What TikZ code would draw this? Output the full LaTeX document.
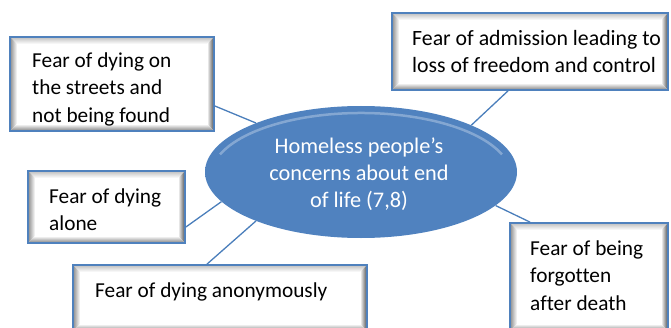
\documentclass[tikz,border=0pt]{standalone}
\usepackage{fontspec}
\setmainfont[Ligatures=NoCommon]{Carlito}
\usetikzlibrary{calc,shapes.geometric}
\definecolor{bord}{HTML}{4F81BD}
\definecolor{ellA}{HTML}{5082BF}
\definecolor{ellB}{HTML}{4A7CB8}
\definecolor{ellC}{HTML}{2F5D97}
\definecolor{conncol}{HTML}{4A7EBB}
\pgfdeclareradialshading{ellshade}{\pgfpoint{0bp}{0bp}}{%
  color(0bp)=(ellA); color(32bp)=(ellA); color(42bp)=(ellB); color(47bp)=(ellC); color(50bp)=(ellC)}
\newlength{\bevw}
\setlength{\bevw}{7pt}
\tikzset{
  bevbox/.style={draw=bord, line width=1.8pt, fill=white, inner sep=0pt,
    path picture={
      \path (path picture bounding box.south west) coordinate (pSW)
            (path picture bounding box.north east) coordinate (pNE)
            (path picture bounding box.north west) coordinate (pNW)
            (path picture bounding box.south east) coordinate (pSE);
      \shade[top color=black!25, bottom color=white]
        (pNW) -- (pNE) -- ([shift={(-\bevw,-\bevw)}]pNE) -- ([shift={(\bevw,-\bevw)}]pNW) -- cycle;
      \shade[left color=black!45, right color=white]
        (pNW) -- ([shift={(\bevw,-\bevw)}]pNW) -- ([shift={(\bevw,\bevw)}]pSW) -- (pSW) -- cycle;
      \shade[left color=white, right color=black!70]
        (pNE) -- ([shift={(-\bevw,-\bevw)}]pNE) -- ([shift={(-\bevw,\bevw)}]pSE) -- (pSE) -- cycle;
      \shade[top color=white, bottom color=black!50]
        (pSW) -- ([shift={(\bevw,\bevw)}]pSW) -- ([shift={(-\bevw,\bevw)}]pSE) -- (pSE) -- cycle;
    }},
  boxtext/.style={anchor=north west, align=left, inner sep=0pt,
    font=\fontsize{21.3}{27.5}\selectfont, text=black},
  bigboxtext/.style={boxtext, font=\fontsize{21.8}{27.5}\selectfont},
  elltext/.style={anchor=north, align=center, inner sep=0pt,
    font=\fontsize{22.3}{27}\selectfont, text=white},
  conn/.style={draw=conncol, line width=1.3pt}
}
\begin{document}
\begin{tikzpicture}[x=1pt,y=1pt]
\useasboundingbox (0,0) rectangle (671,327);
% boxes
\node[bevbox, minimum width=204pt, minimum height=94pt] (b1) at (112,243) {};
\node[bevbox, minimum width=276pt, minimum height=77pt] (b2) at (530,275.5) {};
\node[bevbox, minimum width=157pt, minimum height=72pt] (b3) at (106.5,120) {};
\node[bevbox, minimum width=294pt, minimum height=66pt] (b4) at (220,29) {};
\node[bevbox, minimum width=158pt, minimum height=108pt] (b5) at (589,50) {};
% ellipse
\node[ellipse, shading=ellshade, minimum width=312pt, minimum height=132pt, inner sep=0pt] (ell) at (361,155) {};
\begin{scope}
  \clip (ell.center) ellipse [x radius=156pt, y radius=66pt];
  \draw[white, opacity=0.3, line width=2.5pt] ([yshift=-4pt]ell.center) ++(160:150pt and 63pt) arc [start angle=160, end angle=20, x radius=150pt, y radius=63pt];
\end{scope}
% texts
\node[boxtext] (t1) at (32,279.25) {\strut Fear of dying on\\the streets and\\not being found};
\node[bigboxtext] (t2) at (412,301.25) {\strut Fear of admission leading to\\loss of freedom and control};
\node[boxtext] (t3) at (49,143.25) {\strut Fear of dying\\alone};
\node[boxtext] (t4) at (95,49.25) {\strut Fear of dying anonymously};
\node[boxtext] (t5) at (530,91.25) {\strut Fear of being\\forgotten\\after death};
\node[elltext] (te) at (359,192.9) {\strut Homeless people’s\\concerns about end\\of life (7,8)};
% connectors
\draw[conn] ($(b1.east)+(0,-22)$) -- (ell.155);
\draw[conn] ($(b2.south)+(-22,0)$) -- (ell.23);
\draw[conn] ($(b3.east)+(0,-20)$) -- (ell.192);
\draw[conn] ($(b4.north)+(-13,0)$) -- (ell.205);
\draw[conn] ($(b5.north)+(-59,0)$) -- (ell.346);
\end{tikzpicture}
\end{document}
